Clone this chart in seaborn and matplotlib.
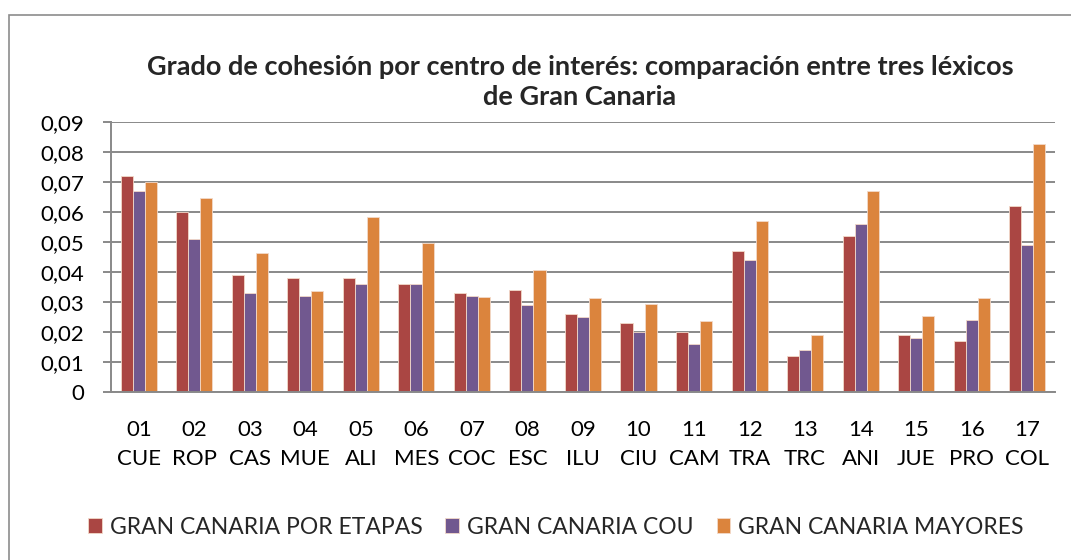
import numpy as np
import pandas as pd
import matplotlib
matplotlib.use("Agg")
import matplotlib.pyplot as plt
import seaborn as sns
from matplotlib.ticker import FuncFormatter, FixedLocator, MultipleLocator
from matplotlib.patches import Rectangle

# --- data ---
codes = ['01', '02', '03', '04', '05', '06', '07', '08', '09',
         '10', '11', '12', '13', '14', '15', '16', '17']
abbrevs = ['CUE', 'ROP', 'CAS', 'MUE', 'ALI', 'MES', 'COC', 'ESC', 'ILU',
           'CIU', 'CAM', 'TRA', 'TRC', 'ANI', 'JUE', 'PRO', 'COL']
series_names = ['GRAN CANARIA POR ETAPAS', 'GRAN CANARIA COU', 'GRAN CANARIA MAYORES']
por_etapas = [0.072, 0.060, 0.039, 0.038, 0.038, 0.036, 0.033, 0.034, 0.026,
              0.023, 0.020, 0.047, 0.012, 0.052, 0.019, 0.017, 0.062]
cou = [0.067, 0.051, 0.033, 0.032, 0.036, 0.036, 0.032, 0.029, 0.025,
       0.020, 0.016, 0.044, 0.014, 0.056, 0.018, 0.024, 0.049]
mayores = [0.070, 0.0648, 0.0463, 0.0337, 0.0582, 0.0496, 0.0316, 0.0407, 0.0313,
           0.0292, 0.0236, 0.0571, 0.0189, 0.0671, 0.0252, 0.0313, 0.0827]
colors = ['#AA4643', '#71588F', '#DB843D']

labels = [f"{c}\n{a}" for c, a in zip(codes, abbrevs)]
df = pd.DataFrame({
    'centro': labels * 3,
    'serie': [series_names[0]] * 17 + [series_names[1]] * 17 + [series_names[2]] * 17,
    'valor': por_etapas + cou + mayores,
})

sns.set_style('white')
plt.rcParams['font.family'] = ['Lato', 'DejaVu Sans']

fig = plt.figure(figsize=(10.71, 5.6), dpi=100)
ax = fig.add_axes([111 / 1071, 1 - 392 / 560, (1055 - 111) / 1071, (392 - 122) / 560])

sns.barplot(data=df, x='centro', y='valor', hue='serie', order=labels,
            hue_order=series_names, palette=colors, saturation=1,
            width=0.65, gap=0, edgecolor='#F3D9C9', linewidth=0.6, ax=ax,
            errorbar=None)

grid_c = '#898989'
ax.set_ylim(0, 0.09)
ax.set_xlim(-0.5, 16.5)
ax.yaxis.set_major_locator(MultipleLocator(0.01))
ax.yaxis.set_major_formatter(FuncFormatter(
    lambda v, p: '0' if abs(v) < 1e-9 else f"{v:.2f}".replace('.', ',')))
ax.grid(axis='y', color=grid_c, linewidth=1.4)
ax.set_axisbelow(True)
for s in ['top', 'right']:
    ax.spines[s].set_visible(False)
for s in ['left', 'bottom']:
    ax.spines[s].set_color(grid_c)
    ax.spines[s].set_linewidth(1.4)

ax.xaxis.set_minor_locator(FixedLocator(np.arange(-0.5, 17, 1)))
ax.tick_params(axis='x', which='major', length=0, pad=20, labelsize=16,
               colors='black')
ax.tick_params(axis='x', which='minor', length=6, width=1.4, color=grid_c,
               direction='out')
ax.tick_params(axis='y', which='major', length=6, width=1.4, color=grid_c,
               labelsize=16, labelcolor='black', left=True, pad=13)
for t in ax.get_xticklabels():
    t.set_linespacing(1.55)

ax.set_xlabel('')
ax.set_ylabel('')

fig.text(0.5415, 1 - 82 / 560,
         'Grado de cohesión por centro de interés: comparación entre tres léxicos\nde Gran Canaria',
         ha='center', va='center', fontsize=19.5, fontweight='bold',
         linespacing=1.33, multialignment='center')

handles, lbls = ax.get_legend_handles_labels()
ax.get_legend().remove()
fig.legend(handles, lbls, loc='center', bbox_to_anchor=(0.519, 1 - 527 / 560),
           ncol=3, frameon=False, fontsize=16.5, handlelength=0.6, handleheight=0.6,
           handletextpad=0.35, columnspacing=1.0)

# chart-area border (right and bottom edges fall outside the image)
fig.add_artist(Rectangle((9 / 1071, -0.05), 1.2, 1 - 15 / 560 + 0.05,
                         transform=fig.transFigure, fill=False,
                         edgecolor='#8C8C8C', linewidth=1.2, clip_on=False))

fig.savefig('out.png', dpi=100)
